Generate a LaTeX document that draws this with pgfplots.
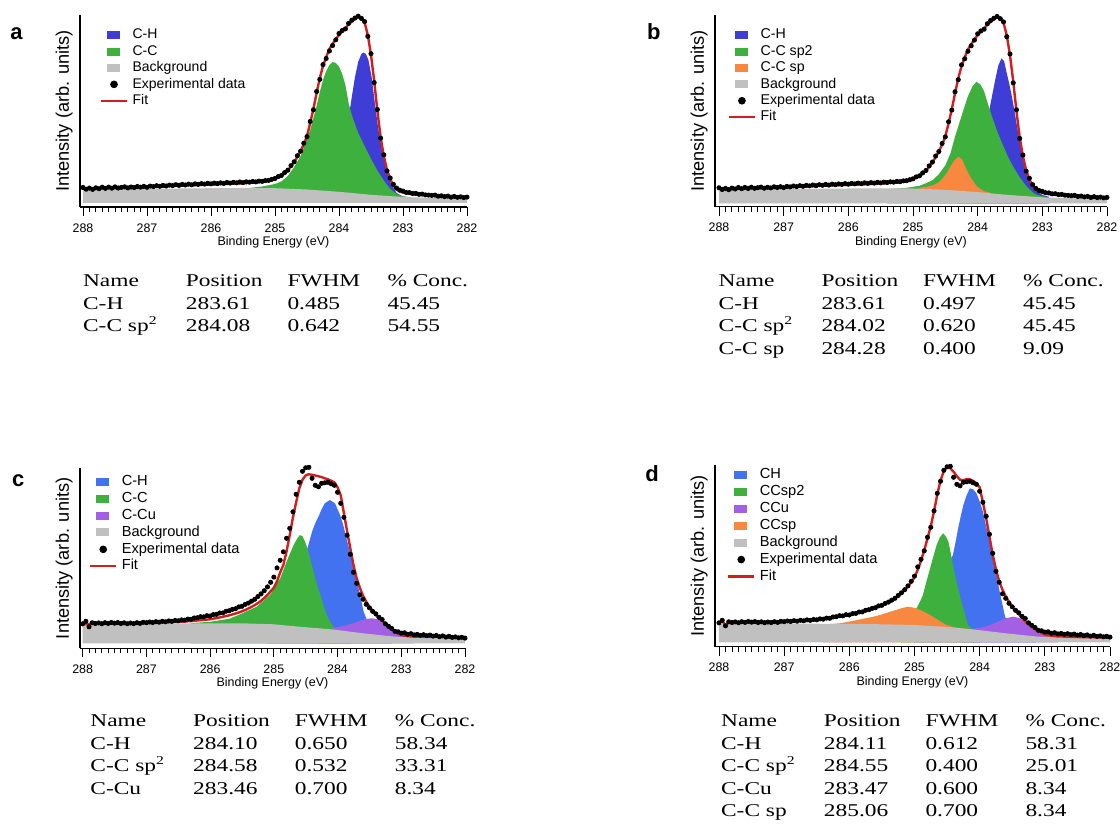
\documentclass[border=0pt]{standalone}
\usepackage{graphicx}
\usepackage{pgfplots}
\pgfplotsset{compat=1.18}
\usepackage{pgfplotstable}
\usepackage{fontspec}
\setmainfont{Liberation Sans}
\newfontfamily\tnr{Liberation Serif}

\definecolor{cblueA}{RGB}{62,62,214}
\definecolor{cblueC}{RGB}{66,114,240}
\definecolor{cgreen}{RGB}{62,176,62}
\definecolor{corange}{RGB}{248,135,64}
\definecolor{cpurple}{RGB}{164,96,228}
\definecolor{cgray}{RGB}{192,192,192}
\definecolor{cred}{RGB}{212,30,30}

% spectra a/b (same measurement), intensity in px above baseline
\pgfplotstableread{
E exp fit
288.00 15.5 14.7
287.95 13.8 14.6
287.90 14.9 14.5
287.85 13.6 14.6
287.80 15.2 14.8
287.75 14.3 14.9
287.70 15.8 14.9
287.65 14.6 15.0
287.60 15.9 15.0
287.55 14.8 15.1
287.50 16.1 15.2
287.45 15.0 15.2
287.40 15.6 15.3
287.35 16.2 15.3
287.30 15.1 15.4
287.25 16.0 15.4
287.20 15.4 15.5
287.15 16.5 15.6
287.10 15.8 15.7
287.05 16.6 15.8
287.00 15.7 15.9
286.95 16.9 16.0
286.90 16.4 16.2
286.85 17.3 16.4
286.80 16.7 16.5
286.75 17.6 16.6
286.70 17.0 16.8
286.65 17.9 17.0
286.60 17.4 17.1
286.55 18.3 17.2
286.50 17.6 17.3
286.45 18.6 17.5
286.40 18.0 17.6
286.35 18.9 17.7
286.30 18.2 17.8
286.25 19.2 17.9
286.20 18.6 18.0
286.15 19.4 18.1
286.10 18.9 18.2
286.05 19.7 18.3
286.00 19.1 18.4
285.95 19.9 18.5
285.90 19.4 18.7
285.85 20.2 18.8
285.80 19.6 18.9
285.75 20.5 19.0
285.70 19.9 19.1
285.65 20.7 19.3
285.60 20.2 19.4
285.55 21.0 19.5
285.50 20.4 19.7
285.45 21.2 19.9
285.40 20.8 20.1
285.35 21.5 20.4
285.30 21.1 20.7
285.25 21.9 21.0
285.20 21.6 21.4
285.15 22.4 21.8
285.10 22.6 22.3
285.05 23.6 23.0
285.00 24.5 24.2
284.95 26.4 25.6
284.90 27.5 27.2
284.85 30.4 29.5
284.80 32.8 32.5
284.75 37.4 36.5
284.70 41.2 41.0
284.65 47.3 46.0
284.60 51.8 52.0
284.55 59.8 58.5
284.50 66.4 67.0
284.45 81.5 80.0
284.40 93.2 94.0
284.35 111.5 110.0
284.30 123.6 125.0
284.25 138.4 137.0
284.20 144.5 146.0
284.15 152.0 154.0
284.10 157.5 159.0
284.05 163.2 164.0
284.00 169.5 168.0
283.95 172.4 171.5
283.90 174.1 175.0
283.85 179.6 178.5
283.80 182.8 181.5
283.75 185.0 184.0
283.70 186.8 186.0
283.65 184.6 185.0
283.60 181.4 180.5
283.55 166.6 168.0
283.50 149.3 148.0
283.45 120.4 122.0
283.40 93.5 92.0
283.35 64.8 66.0
283.30 48.2 47.0
283.25 32.1 33.0
283.20 25.0 24.0
283.15 18.6 17.5
283.10 14.9 13.5
283.05 12.8 11.5
283.00 11.9 10.5
282.95 10.6 9.8
282.90 10.4 9.3
282.85 9.5 8.9
282.80 9.6 8.6
282.75 8.7 8.3
282.70 8.9 8.0
282.65 8.1 7.8
282.60 7.9 7.5
282.55 7.6 7.3
282.50 7.9 7.1
282.45 6.8 6.9
282.40 7.2 6.7
282.35 6.4 6.5
282.30 6.9 6.4
282.25 5.8 6.2
282.20 6.6 6.1
282.15 5.7 6.0
282.10 6.2 5.9
282.05 5.4 5.8
282.00 5.9 5.7
}\specAB

\pgfplotstableread{
E I
288.0 13.5
287.5 13.8
287.0 14.2
286.5 14.5
286.0 14.8
285.5 15.0
285.0 14.8
284.5 13.5
284.0 11.2
283.5 8.2
283.0 6.0
282.5 5.0
282.0 4.5
}\bgAB

\pgfplotstableread{
E I
284.30 12
284.20 16
284.10 24
284.00 40
283.95 52
283.90 68
283.85 85
283.80 106
283.75 126
283.70 141
283.65 149
283.62 150.5
283.58 149
283.54 143
283.49 126
283.44 100
283.39 76
283.33 53
283.26 33
283.18 18
283.10 10
283.00 6.5
282.90 5.8
}\aCH

\pgfplotstableread{
E I
285.40 15.0
285.20 16.5
285.00 19.0
284.90 21.5
284.80 27
284.70 36
284.60 47
284.50 64
284.45 73
284.40 85
284.35 97
284.30 111
284.25 123
284.20 132
284.15 138
284.10 141
284.05 140
284.00 136.5
283.95 129
283.90 118
283.85 100
283.80 88
283.75 79
283.70 70
283.60 57
283.50 44
283.40 32.5
283.30 22.5
283.20 14
283.10 9
283.00 6.5
282.90 5.8
}\aCC

\pgfplotstableread{
E I
284.30 12
284.10 22
284.00 36
283.90 60
283.81 96.6
283.73 123
283.68 138
283.63 145
283.59 142
283.55 130
283.51 119
283.47 106.6
283.43 92
283.39 76.6
283.32 50
283.26 36
283.21 26.6
283.11 13.3
283.00 8.3
282.90 6.5
}\bCH

\pgfplotstableread{
E I
285.40 14.0
285.10 15.5
284.90 17.5
284.80 20
284.70 23
284.60 29
284.50 38
284.42 50
284.35 66.6
284.28 81
284.22 93.3
284.15 107
284.08 117
284.02 121.6
283.96 119
283.90 112
283.86 103.3
283.80 91
283.76 83.3
283.68 69
283.60 56.6
283.52 45
283.45 36.6
283.35 26
283.24 16.6
283.15 11
283.08 8.3
282.95 6.5
}\bCCsp

\pgfplotstableread{
E I
284.90 15.5
284.75 17
284.68 18.3
284.60 21
284.53 26
284.48 30
284.42 37
284.36 43
284.30 46.6
284.24 44
284.17 33.3
284.10 25
284.01 16.6
283.90 12
283.80 10.5
}\bCsp

% spectra c/d (same measurement)
\pgfplotstableread{
E exp fitc fitd
288.00 19.5 19.0 19.0
287.95 22.0 19.2 21.0
287.90 16.5 19.3 17.5
287.85 20.5 19.4 19.8
287.80 19.8 19.5 19.9
287.75 20.4 19.6 20.0
287.70 19.6 19.6 20.0
287.65 20.6 19.7 20.1
287.60 19.9 19.7 20.1
287.55 20.8 19.8 20.2
287.50 20.1 19.8 20.2
287.45 20.7 19.9 20.3
287.40 19.8 19.9 20.3
287.35 20.5 20.0 20.3
287.30 19.6 20.0 20.4
287.25 20.3 20.0 20.4
287.20 19.7 20.1 20.4
287.15 20.6 20.1 20.5
287.10 19.9 20.2 20.5
287.05 21.0 20.2 20.6
287.00 20.6 20.3 20.7
286.95 21.3 20.4 20.8
286.90 20.8 20.5 21.0
286.85 21.6 20.6 21.2
286.80 21.1 20.7 21.4
286.75 22.0 20.8 21.6
286.70 21.5 20.9 21.8
286.65 22.4 21.0 22.0
286.60 21.9 21.2 22.3
286.55 22.8 21.3 22.6
286.50 22.5 21.5 22.9
286.45 23.4 21.6 23.3
286.40 23.1 21.8 23.7
286.35 24.2 22.0 24.1
286.30 24.0 22.2 24.5
286.25 25.3 22.5 25.0
286.20 25.6 22.8 25.5
286.15 26.6 23.1 26.0
286.10 26.4 23.4 26.6
286.05 27.6 23.7 27.1
286.00 27.3 24.0 27.7
285.95 28.7 24.6 28.4
285.90 28.9 25.2 29.1
285.85 30.3 25.8 29.9
285.80 30.4 26.5 30.7
285.75 32.0 27.2 31.6
285.70 32.6 28.0 32.5
285.65 33.9 28.9 33.5
285.60 34.6 29.8 34.6
285.55 36.4 30.8 35.8
285.50 37.0 32.0 37.1
285.45 38.9 33.3 38.6
285.40 40.2 34.8 40.2
285.35 42.1 36.4 42.0
285.30 44.0 38.2 44.0
285.25 46.8 40.2 46.4
285.20 49.5 42.5 49.1
285.15 52.6 45.2 52.2
285.10 56.4 48.3 55.8
285.05 61.0 52.0 60.0
285.00 66.2 55.5 65.0
284.95 75.4 62.0 72.5
284.90 83.0 71.0 81.5
284.85 91.5 78.3 92.0
284.80 105.0 92.0 104.0
284.75 115.0 108.3 116.0
284.70 131.5 126.0 131.0
284.65 149.0 141.0 148.0
284.60 161.0 155.0 162.0
284.55 172.0 163.5 171.0
284.50 175.5 168.0 175.5
284.45 176.0 169.0 174.0
284.40 165.0 168.5 170.5
284.35 158.0 167.8 166.0
284.30 156.5 167.0 162.5
284.25 160.0 166.2 162.0
284.20 160.5 165.0 163.3
284.15 161.0 164.0 163.0
284.10 159.5 162.5 161.3
284.05 158.0 161.0 159.0
284.00 151.0 156.0 155.0
283.95 140.0 148.0 140.0
283.90 126.0 130.0 124.0
283.85 108.0 112.0 106.0
283.80 89.0 95.0 87.5
283.75 71.0 78.3 73.0
283.70 60.0 65.0 61.0
283.65 48.5 55.5 52.5
283.60 44.0 47.5 46.0
283.55 39.0 41.5 40.5
283.50 35.5 36.5 35.5
283.45 32.0 32.5 31.5
283.40 29.5 28.5 28.5
283.35 26.0 25.0 24.0
283.30 23.8 22.5 21.0
283.25 19.5 19.8 18.0
283.20 17.0 17.0 15.5
283.15 14.8 14.0 13.0
283.10 12.0 11.5 11.0
283.05 11.5 9.5 9.2
283.00 10.2 8.3 7.8
282.95 10.5 7.6 7.0
282.90 9.0 7.2 6.5
282.85 9.6 6.9 6.1
282.80 8.4 6.7 5.9
282.75 8.9 6.6 5.8
282.70 8.0 6.6 5.7
282.65 8.6 6.6 5.6
282.60 7.6 6.6 5.5
282.55 8.2 6.6 5.4
282.50 7.2 6.6 5.3
282.45 7.8 6.6 5.2
282.40 6.6 6.6 5.2
282.35 7.4 6.5 5.1
282.30 6.2 6.5 5.0
282.25 7.0 6.4 5.0
282.20 5.9 6.3 4.9
282.15 6.4 6.2 4.9
282.10 5.5 6.0 4.8
282.05 6.0 5.8 4.7
282.00 5.2 5.6 4.6
}\specCD

\pgfplotstableread{
E I
288.0 18.3
287.0 19.5
286.2 20.0
285.5 20.0
285.0 19.0
284.6 16.6
284.1 14.0
283.6 10.0
283.1 6.6
282.5 5.5
282.0 5.0
}\bgC

\pgfplotstableread{
E I
288.0 18.3
287.0 18.6
286.0 18.5
285.5 18.0
285.0 17.3
284.5 15.3
284.1 12.8
283.6 9.0
283.1 5.6
282.5 4.5
282.0 4.0
}\bgD

\pgfplotstableread{
E I
285.10 18
284.90 24
284.75 38
284.62 62
284.52 85
284.45 100
284.40 111.6
284.35 120
284.30 126.6
284.25 134
284.20 140
284.12 143.3
284.04 140
283.96 128.3
283.91 118
283.86 105
283.80 90
283.75 78.3
283.71 66
283.67 55
283.63 43
283.59 31.6
283.54 23.3
283.48 17
283.40 12.5
283.30 9
283.15 7
}\cCH

\pgfplotstableread{
E I
286.30 20.2
286.00 21.5
285.70 24.5
285.53 29
285.27 36.6
285.06 48.3
284.90 65
284.80 81.6
284.69 98.3
284.63 105
284.59 108.3
284.55 107
284.51 101.6
284.47 94
284.43 85
284.39 75
284.35 65
284.31 56
284.27 48.3
284.22 38
284.17 28.3
284.11 21
284.06 16.6
283.95 13.5
283.80 12
}\cCC

\pgfplotstableread{
E I
284.30 13.5
284.10 14.5
283.96 16.6
283.85 18.3
283.75 20
283.65 22.5
283.55 24.3
283.46 25
283.37 24
283.28 21.6
283.20 17.5
283.12 13.3
283.02 8.3
282.90 6.2
282.80 5.8
}\cCCu

\pgfplotstableread{
E I
285.00 16
284.80 25
284.65 45
284.55 68
284.47 80
284.41 87.3
284.37 100
284.33 114
284.29 126
284.25 137.3
284.20 147
284.15 154
284.10 153
284.05 149
284.00 141
283.95 130.6
283.90 116
283.84 100.6
283.79 84
283.74 67.3
283.70 53
283.66 40.6
283.61 25.6
283.55 18
283.45 12
283.30 8
283.15 6
}\dCH

\pgfplotstableread{
E I
285.20 17.5
285.05 24
284.97 34
284.92 40
284.87 47.3
284.82 60
284.76 74
284.71 86
284.66 97.3
284.61 105
284.56 109
284.52 106
284.48 100.6
284.44 88
284.41 77.3
284.37 65
284.33 54
284.29 43
284.25 34
284.21 24
284.18 17.3
284.12 14
284.00 12
}\dCC

\pgfplotstableread{
E I
284.30 13
284.10 13.5
283.95 15
283.84 17.3
283.72 20.5
283.60 24
283.49 25.6
283.40 24.5
283.28 19
283.20 14.5
283.13 10.6
283.03 7.3
282.90 5.2
282.80 4.8
}\dCCu

\pgfplotstableread{
E I
286.40 17.8
286.14 19
285.90 22
285.63 25.6
285.53 27.3
285.37 30.6
285.20 34
285.10 35.6
285.00 34.5
284.90 32
284.76 27.3
284.62 21.5
284.51 17.3
284.38 15
284.25 14
284.10 12.5
}\dCsp

\pgfplotsset{
  xps/.style={
    scale only axis, anchor=south west, clip=false,
    x dir=reverse, xmin=282,
    axis lines=left, axis line style={-, line width=0.7pt},
    xtick={282,283,284,285,286,287,288}, minor x tick num=9, ytick=\empty,
    tick align=outside, major tick length=4.5pt, minor tick length=2.5pt,
    tick style={black, line width=0.45pt},
    /pgf/number format/assume math mode=true,
    xticklabel style={font=\fontsize{6.2}{7}\selectfont, anchor=base, yshift=-8.1pt},
    xlabel={Binding Energy (eV)}, ylabel={Intensity (arb. units)},
    every axis x label/.style={at={(axis description cs:0.5,0)}, anchor=base, yshift=-19.2pt, font=\fontsize{6.24}{7}\selectfont},
    every axis y label/.style={at={(axis description cs:0,0.5)}, xshift=-5.5pt, rotate=90, anchor=base, font=\fontsize{9.1}{10}\selectfont},
    legend cell align=left,
    legend style={draw=none, fill=none, inner sep=0pt, outer sep=0pt, anchor=north west, column sep=1.6pt,
      nodes={inner sep=0.5pt, text height=5.2pt, text depth=1.5pt}},
  },
  comp/.style={draw=none, fill=#1, legend image code/.code={\fill[#1] (3pt,-2pt) rectangle (9.5pt,2pt);}},
  dots/.style={only marks, mark=*, mark size=1.05pt, black, legend image code/.code={\fill[black] (6.4pt,0pt) circle (1.7pt);}},
  fitline/.style={draw=cred, line width=1.2pt, legend image code/.code={\draw[cred, line width=1.2pt] (0pt,0pt) -- (13pt,0pt);}},
}

\tikzset{tbl/.style={anchor=base west, inner sep=0pt, font=\tnr\fontsize{9}{10}\selectfont},
  plab/.style={anchor=base west, inner sep=0pt, font=\bfseries\fontsize{11}{12}\selectfont}}
\newcommand{\tc}[1]{\scalebox{1.3}[1]{#1}}
\newcommand{\trow}[6]{%
  \node[tbl] at (#1pt,#2pt) {\tc{#3}};
  \node[tbl] at ({#1pt+51.4pt},#2pt) {\tc{#4}};
  \node[tbl] at ({#1pt+102.2pt},#2pt) {\tc{#5}};
  \node[tbl] at ({#1pt+152.2pt},#2pt) {\tc{#6}};}

\begin{document}
\begin{tikzpicture}
\path[use as bounding box] (0pt,0pt) rectangle (560pt,417.5pt);

% ---- a
\begin{axis}[xps, at={(40pt,314pt)}, width=193.5pt, height=96pt,
  xmax=288.047, ymin=-4, ymax=188,
  legend style={at={(0.0517,0.935)}, row sep=0.5pt, font=\fontsize{7}{8}\selectfont}]
\addplot[comp=cblueA] table[x=E,y=I]{\aCH} \closedcycle;
\addlegendentry{C-H}
\addplot[comp=cgreen] table[x=E,y=I]{\aCC} \closedcycle;
\addlegendentry{C-C}
\addplot[comp=cgray] table[x=E,y=I]{\bgAB} \closedcycle;
\addlegendentry{Background}
\addplot[dots] table[x=E,y=exp]{\specAB};
\addlegendentry{Experimental data}
\addplot[fitline] table[x=E,y=fit]{\specAB};
\addlegendentry{Fit}
\end{axis}

% ---- b
\begin{axis}[xps, at={(357.5pt,314.15pt)}, width=196pt, height=95.85pt,
  xmax=288.062, ymin=-3.4, ymax=188.3,
  legend style={at={(0.033,0.935)}, row sep=0.5pt, font=\fontsize{7.1}{8}\selectfont}]
\addplot[comp=cblueA] table[x=E,y=I]{\bCH} \closedcycle;
\addlegendentry{C-H}
\addplot[comp=cgreen] table[x=E,y=I]{\bCCsp} \closedcycle;
\addlegendentry{C-C sp2}
\addplot[comp=corange] table[x=E,y=I]{\bCsp} \closedcycle;
\addlegendentry{C-C sp}
\addplot[comp=cgray] table[x=E,y=I]{\bgAB} \closedcycle;
\addlegendentry{Background}
\addplot[dots] table[x=E,y=exp]{\specAB};
\addlegendentry{Experimental data}
\addplot[fitline] table[x=E,y=fit]{\specAB};
\addlegendentry{Fit}
\end{axis}

% ---- c
\begin{axis}[xps, at={(40pt,93.35pt)}, width=192.5pt, height=90pt,
  xmax=288.042, ymin=-5, ymax=175,
  legend style={at={(0.024,0.968)}, row sep=0.75pt, font=\fontsize{7.3}{8}\selectfont}]
\addplot[comp=cblueC] table[x=E,y=I]{\cCH} \closedcycle;
\addlegendentry{C-H}
\addplot[comp=cgreen] table[x=E,y=I]{\cCC} \closedcycle;
\addlegendentry{C-C}
\addplot[comp=cpurple] table[x=E,y=I]{\cCCu} \closedcycle;
\addlegendentry{C-Cu}
\addplot[comp=cgray] table[x=E,y=I]{\bgC} \closedcycle;
\addlegendentry{Background}
\addplot[dots] table[x=E,y=exp]{\specCD};
\addlegendentry{Experimental data}
\addplot[fitline] table[x=E,y=fitc]{\specCD};
\addlegendentry{Fit}
\end{axis}

% ---- d
\begin{axis}[xps, at={(357.5pt,94.15pt)}, width=197.5pt, height=90.85pt,
  xmax=288.061, ymin=-4.4, ymax=177.3,
  legend style={at={(0.031,0.987)}, row sep=0.75pt, font=\fontsize{7.3}{8}\selectfont}]
\addplot[comp=cblueC] table[x=E,y=I]{\dCH} \closedcycle;
\addlegendentry{CH}
\addplot[comp=cgreen] table[x=E,y=I]{\dCC} \closedcycle;
\addlegendentry{CCsp2}
\addplot[comp=cpurple] table[x=E,y=I]{\dCCu} \closedcycle;
\addlegendentry{CCu}
\addplot[comp=corange] table[x=E,y=I]{\dCsp} \closedcycle;
\addlegendentry{CCsp}
\addplot[comp=cgray] table[x=E,y=I]{\bgD} \closedcycle;
\addlegendentry{Background}
\addplot[dots] table[x=E,y=exp]{\specCD};
\addlegendentry{Experimental data}
\addplot[fitline] table[x=E,y=fitd]{\specCD};
\addlegendentry{Fit}
\end{axis}

% panel letters
\node[plab] at (5pt,397.5pt) {a};
\node[plab] at (323.35pt,397.5pt) {b};
\node[plab] at (5.85pt,174.15pt) {c};
\node[plab] at (322.5pt,176.65pt) {d};

% tables
\trow{41.35}{274.15}{Name}{Position}{FWHM}{\% Conc.}
\trow{41.35}{262.9}{C-H}{283.61}{0.485}{45.45}
\trow{41.35}{251.65}{C-C sp\textsuperscript{2}}{284.08}{0.642}{54.55}

\trow{359.15}{274.15}{Name}{Position}{FWHM}{\% Conc.}
\trow{359.15}{262.9}{C-H}{283.61}{0.497}{45.45}
\trow{359.15}{251.65}{C-C sp\textsuperscript{2}}{284.02}{0.620}{45.45}
\trow{359.15}{240.4}{C-C sp}{284.28}{0.400}{9.09}

\trow{45}{54.15}{Name}{Position}{FWHM}{\% Conc.}
\trow{45}{42.9}{C-H}{284.10}{0.650}{58.34}
\trow{45}{31.65}{C-C sp\textsuperscript{2}}{284.58}{0.532}{33.31}
\trow{45}{20.4}{C-Cu}{283.46}{0.700}{8.34}

\trow{360.35}{54.15}{Name}{Position}{FWHM}{\% Conc.}
\trow{360.35}{42.9}{C-H}{284.11}{0.612}{58.31}
\trow{360.35}{31.65}{C-C sp\textsuperscript{2}}{284.55}{0.400}{25.01}
\trow{360.35}{20.4}{C-Cu}{283.47}{0.600}{8.34}
\trow{360.35}{9.15}{C-C sp}{285.06}{0.700}{8.34}
\end{tikzpicture}
\end{document}
